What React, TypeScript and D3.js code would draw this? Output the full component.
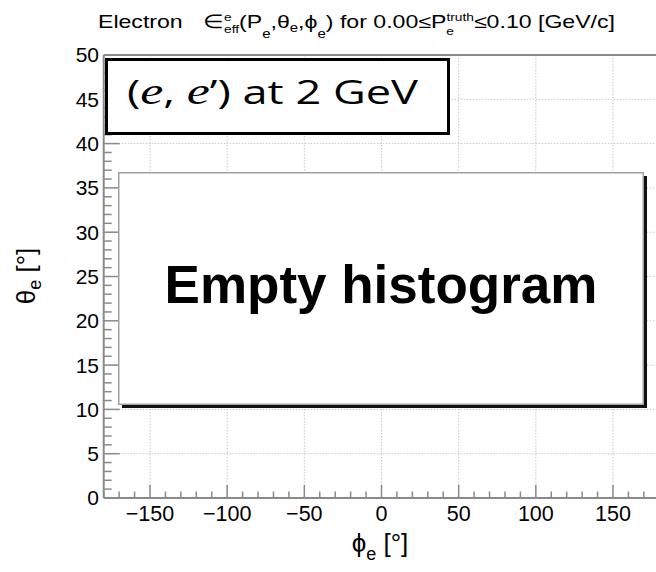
import React from "react";
import * as d3 from "d3";

const W = 656;
const H = 572;

const xDomain = [-180, 180];
const yDomain = [0, 50];
const xMajorTicks = [-150, -100, -50, 0, 50, 100, 150];
const yMajorTicks = [0, 5, 10, 15, 20, 25, 30, 35, 40, 45, 50];
const xMinorStep = 10;
const yMinorStep = 1;
const titleParts = {
  lead: "Electron",
  range: "for 0.00≤P",
  tail: "≤0.10 [GeV/c]",
};
const boxLabel = "Empty histogram";
const reactionLabel = "at 2 GeV";

export default function App() {
  const x = d3.scaleLinear().domain(xDomain).range([103.7, 659.3]);
  const y = d3.scaleLinear().domain(yDomain).range([498, 55]);

  const xMinor = d3.range(-180, 181, xMinorStep).filter((v) => v % 50 !== 0);
  const yMinor = d3.range(0, 51, yMinorStep).filter((v) => v % 5 !== 0);

  const axisColor = "#8a8a8a";
  const gridColor = "#c8c8c8";
  const font = "'Liberation Sans', Arial, Helvetica, sans-serif";
  const serif = "'Liberation Serif', 'DejaVu Serif', serif";

  return (
    <svg
      width={W}
      height={H}
      style={{ display: "block", position: "absolute", left: 0, top: 0, background: "#fff" }}
    >
      <rect x={0} y={0} width={W} height={H} fill="#fff" />
      {/* grid */}
      {xMajorTicks.map((v) => (
        <line
          key={"gx" + v}
          x1={x(v)}
          x2={x(v)}
          y1={y(50)}
          y2={y(0)}
          stroke={gridColor}
          strokeWidth={1}
          strokeDasharray="1.5,1.5"
        />
      ))}
      {yMajorTicks
        .filter((v) => v !== 0 && v !== 50)
        .map((v) => (
          <line
            key={"gy" + v}
            x1={x(-180)}
            x2={x(180)}
            y1={y(v)}
            y2={y(v)}
            stroke={gridColor}
            strokeWidth={1}
            strokeDasharray="1.5,1.5"
          />
        ))}

      {/* frame */}
      <line x1={x(-180)} x2={x(180)} y1={y(50)} y2={y(50)} stroke={axisColor} strokeWidth={2} />
      <line x1={x(-180)} x2={x(-180)} y1={y(50)} y2={y(0)} stroke={axisColor} strokeWidth={2} />
      <line x1={x(-180)} x2={x(180)} y1={y(0)} y2={y(0)} stroke={axisColor} strokeWidth={2} />

      {/* x ticks */}
      {xMajorTicks.map((v) => (
        <line key={"xt" + v} x1={x(v)} x2={x(v)} y1={y(0)} y2={y(0) - 13} stroke={axisColor} strokeWidth={1.5} />
      ))}
      {xMinor.map((v) => (
        <line key={"xm" + v} x1={x(v)} x2={x(v)} y1={y(0)} y2={y(0) - 6.5} stroke={axisColor} strokeWidth={1.5} />
      ))}
      {/* y ticks */}
      {yMajorTicks.map((v) => (
        <line key={"yt" + v} x1={x(-180)} x2={x(-180) + 16} y1={y(v)} y2={y(v)} stroke={axisColor} strokeWidth={1.5} />
      ))}
      {yMinor.map((v) => (
        <line key={"ym" + v} x1={x(-180)} x2={x(-180) + 8} y1={y(v)} y2={y(v)} stroke={axisColor} strokeWidth={1.5} />
      ))}

      {/* tick labels */}
      {xMajorTicks.map((v) => (
        <text
          key={"xl" + v}
          x={x(v)}
          y={521}
          textAnchor="middle"
          fontFamily={font}
          fontSize={21.5}
          fill="#000"
        >
          {v < 0 ? "\u2212" + Math.abs(v) : String(v)}
        </text>
      ))}
      {yMajorTicks.map((v) => (
        <text
          key={"yl" + v}
          x={99}
          y={y(v) + 7.4}
          textAnchor="end"
          fontFamily={font}
          fontSize={21}
          fill="#000"
        >
          {v}
        </text>
      ))}

      {/* axis titles */}
      <text x={380} y={552} textAnchor="middle" fontFamily={font} fontSize={26} fill="#000">
        ϕ<tspan fontSize={18} dy={8}>e</tspan>
        <tspan dy={-8}> [°]</tspan>
      </text>
      <text
        transform="translate(35,276) rotate(-90)"
        textAnchor="middle"
        fontFamily={font}
        fontSize={26}
        fill="#000"
      >
        θ<tspan fontSize={18} dy={6}>e</tspan>
        <tspan dy={-6}> [°]</tspan>
      </text>

      {/* title */}
      <text
        x={98}
        y={28}
        fontFamily={font}
        fontSize={18.5}
        fill="#000"
        textLength={517}
        lengthAdjust="spacingAndGlyphs"
      >
        <tspan>{titleParts.lead}</tspan>
        <tspan dx={16}>∈</tspan>
        <tspan fontSize={11} y={21}>e</tspan>
        <tspan fontSize={11} y={33} dx={-6}>eff</tspan>
        <tspan y={28}>(P</tspan>
        <tspan fontSize={12} y={38}>e</tspan>
        <tspan y={28}>,θ</tspan>
        <tspan fontSize={12} y={32}>e</tspan>
        <tspan y={28}>,ϕ</tspan>
        <tspan fontSize={12} y={38}>e</tspan>
        <tspan y={28}>) {titleParts.range}</tspan>
        <tspan fontSize={11} y={35}>e</tspan>
        <tspan fontSize={11} y={21} dx={-6}>truth</tspan>
        <tspan y={28}>{titleParts.tail}</tspan>
      </text>

      {/* reaction box */}
      <rect x={106.5} y={59.5} width={342} height={74} fill="#fff" stroke="#000" strokeWidth={3} />
      <text
        x={127}
        y={104}
        fontFamily="'Open Sans', 'Noto Sans', sans-serif"
        fontSize={33}
        fill="#000"
        textLength={291}
        lengthAdjust="spacingAndGlyphs"
      >
        (<tspan fontFamily={serif} fontStyle="italic" fontSize={38}>e</tspan>,{" "}
        <tspan fontFamily={serif} fontStyle="italic" fontSize={38}>e</tspan>’) {reactionLabel}
      </text>

      {/* empty histogram pave */}
      <rect x={122} y={176} width={525} height={232} fill="#111" />
      <rect x={118.75} y={172.75} width={524.5} height={231.5} fill="#fff" stroke="#a0a0a0" strokeWidth={1.5} />
      <text
        x={381}
        y={303}
        textAnchor="middle"
        fontFamily={font}
        fontWeight="bold"
        fontSize={53}
        fill="#000"
      >
        {boxLabel}
      </text>
    </svg>
  );
}
